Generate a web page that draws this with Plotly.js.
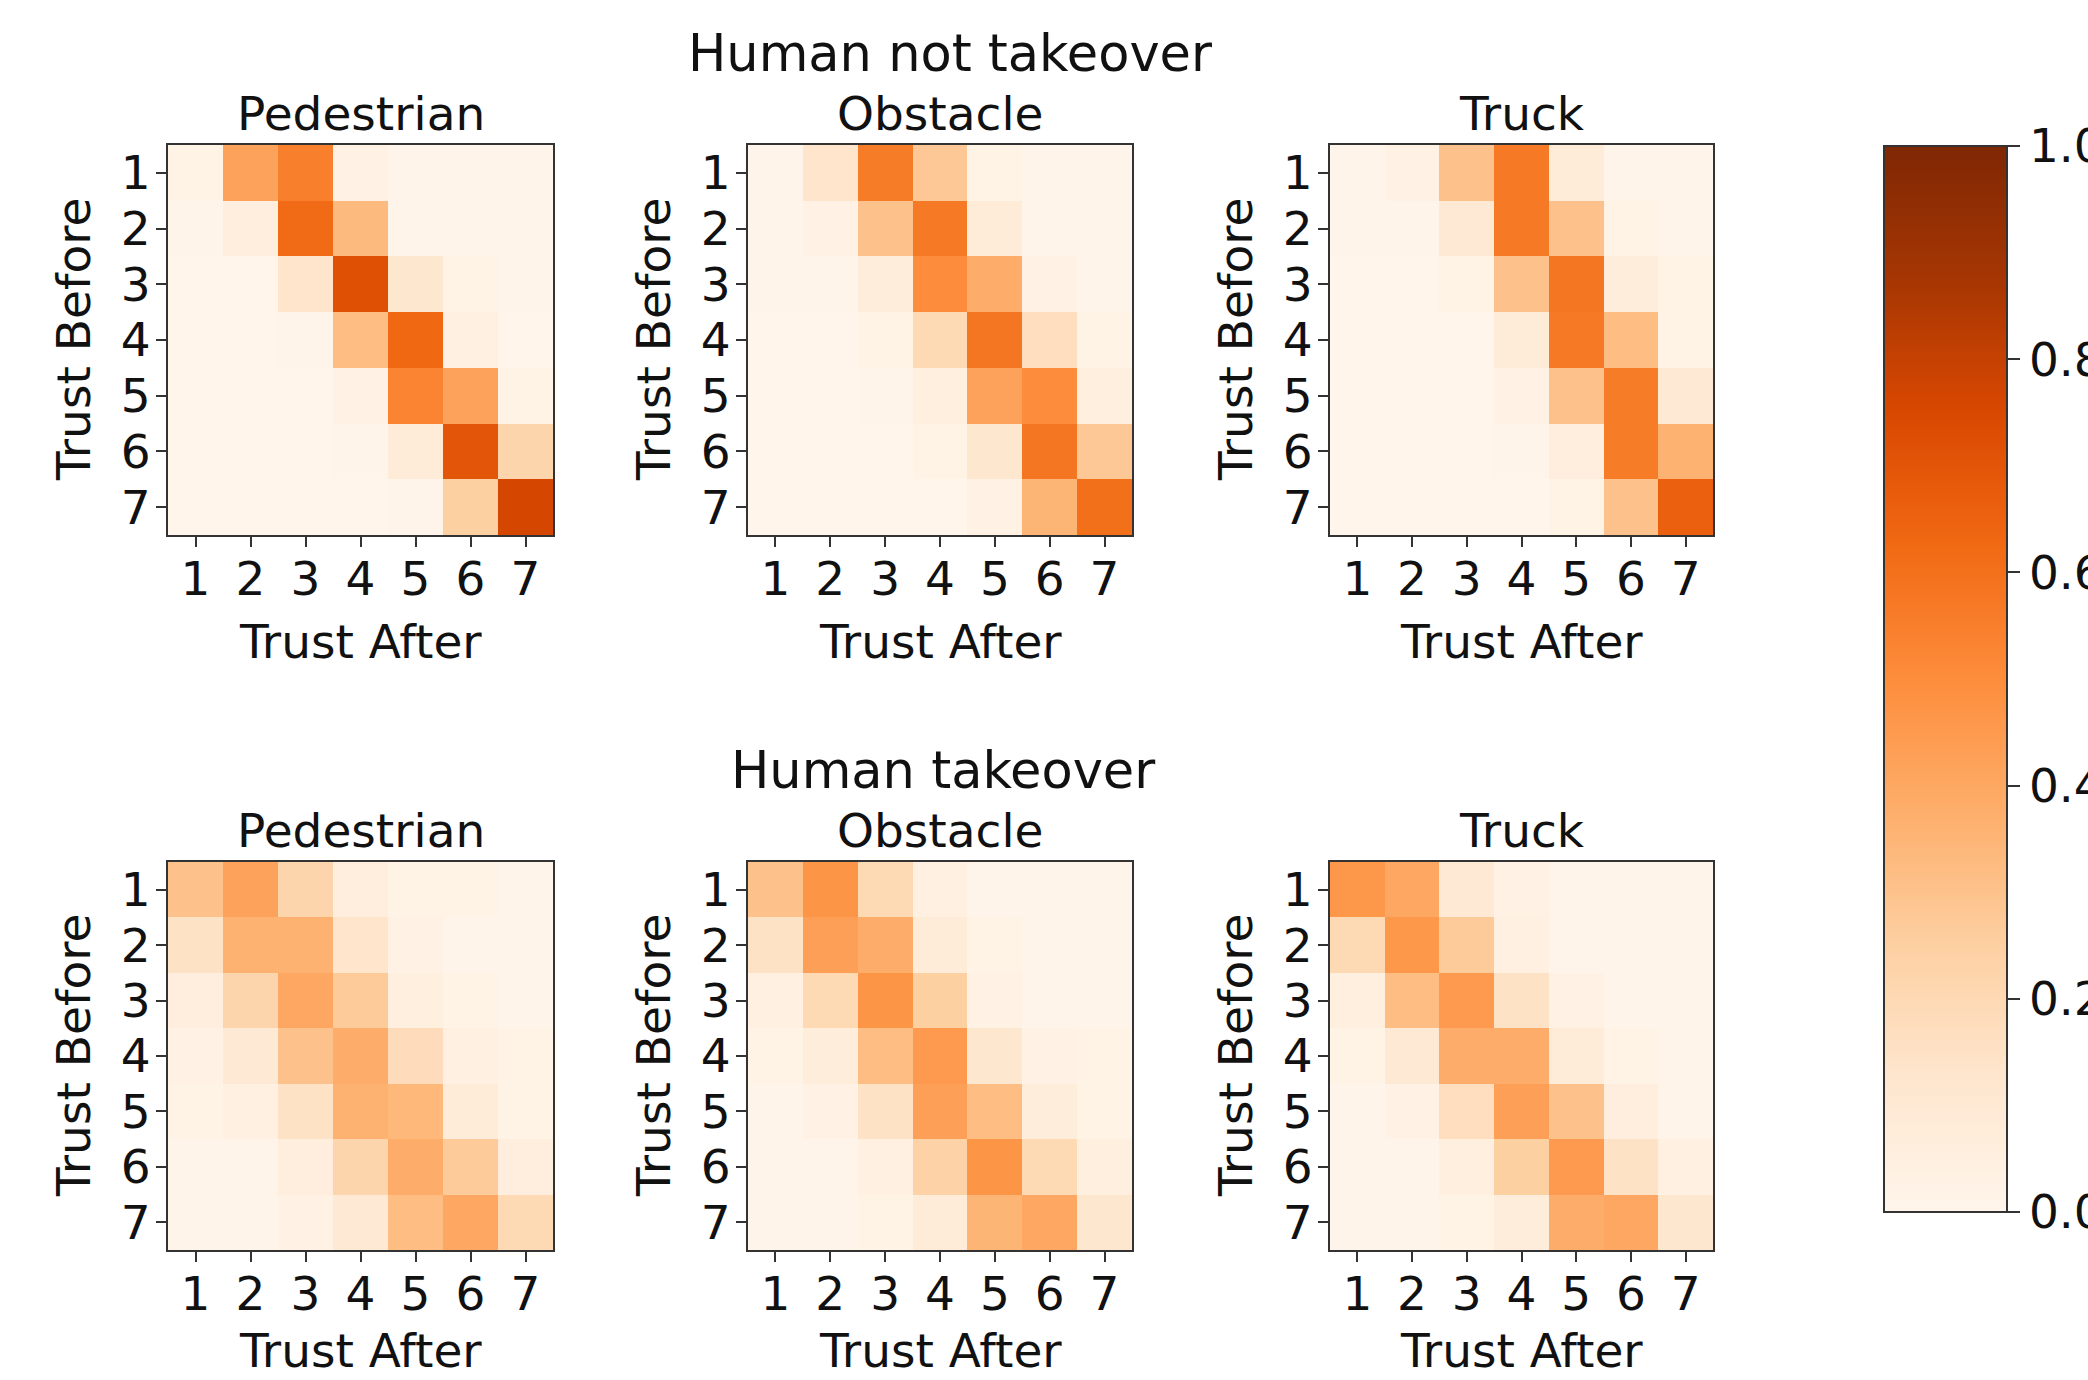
<!DOCTYPE html>
<html>
<head>
<meta charset="utf-8">
<script src="https://cdn.plot.ly/plotly-3.0.1.min.js"></script>
<style>
  html, body { margin: 0; padding: 0; background: #ffffff; overflow: hidden; }
  #chart { width: 2088px; height: 1380px; }
</style>
</head>
<body>
<div id="chart"></div>
<script>
// ---- Data (rows = Trust Before 1..7, cols = Trust After 1..7) ----
const trustLevels = [1, 2, 3, 4, 5, 6, 7];
const tickLabels = ['1', '2', '3', '4', '5', '6', '7'];
const scenarioTitles = ['Pedestrian', 'Obstacle', 'Truck'];
const groupTitles = ['Human not takeover', 'Human takeover'];
const xAxisTitle = 'Trust After';
const yAxisTitle = 'Trust Before';
const colorbarTicks = [0, 0.2, 0.4, 0.6, 0.8, 1.0];

const notTakeoverPedestrian = [
  [0.02, 0.42, 0.55, 0.03, 0.01, 0.01, 0.01],
  [0.01, 0.06, 0.62, 0.33, 0.01, 0.01, 0.01],
  [0.00, 0.00, 0.13, 0.72, 0.12, 0.02, 0.01],
  [0.00, 0.00, 0.01, 0.32, 0.63, 0.04, 0.00],
  [0.00, 0.00, 0.00, 0.03, 0.53, 0.42, 0.02],
  [0.00, 0.00, 0.00, 0.01, 0.08, 0.70, 0.22],
  [0.00, 0.00, 0.00, 0.00, 0.01, 0.25, 0.76]
];
const notTakeoverObstacle = [
  [0.01, 0.13, 0.56, 0.28, 0.02, 0.01, 0.01],
  [0.01, 0.03, 0.30, 0.57, 0.08, 0.01, 0.01],
  [0.01, 0.01, 0.07, 0.50, 0.38, 0.03, 0.01],
  [0.00, 0.00, 0.02, 0.20, 0.58, 0.17, 0.02],
  [0.00, 0.00, 0.01, 0.05, 0.42, 0.50, 0.05],
  [0.00, 0.00, 0.00, 0.02, 0.12, 0.58, 0.28],
  [0.00, 0.00, 0.00, 0.00, 0.03, 0.35, 0.60]
];
const notTakeoverTruck = [
  [0.01, 0.03, 0.30, 0.57, 0.08, 0.01, 0.01],
  [0.01, 0.01, 0.10, 0.57, 0.30, 0.02, 0.01],
  [0.00, 0.00, 0.02, 0.30, 0.58, 0.07, 0.02],
  [0.00, 0.00, 0.00, 0.08, 0.57, 0.32, 0.02],
  [0.00, 0.00, 0.00, 0.03, 0.30, 0.56, 0.10],
  [0.00, 0.00, 0.00, 0.01, 0.06, 0.56, 0.36],
  [0.00, 0.00, 0.00, 0.00, 0.02, 0.30, 0.66]
];
const takeoverPedestrian = [
  [0.30, 0.42, 0.22, 0.06, 0.02, 0.02, 0.01],
  [0.15, 0.36, 0.36, 0.13, 0.03, 0.01, 0.01],
  [0.06, 0.22, 0.40, 0.27, 0.05, 0.02, 0.01],
  [0.03, 0.10, 0.30, 0.38, 0.18, 0.04, 0.02],
  [0.02, 0.04, 0.15, 0.36, 0.34, 0.08, 0.02],
  [0.01, 0.01, 0.06, 0.22, 0.38, 0.27, 0.06],
  [0.01, 0.01, 0.03, 0.10, 0.32, 0.40, 0.20]
];
const takeoverObstacle = [
  [0.30, 0.47, 0.20, 0.04, 0.01, 0.01, 0.01],
  [0.15, 0.43, 0.38, 0.08, 0.02, 0.01, 0.01],
  [0.04, 0.20, 0.47, 0.25, 0.03, 0.01, 0.01],
  [0.02, 0.07, 0.32, 0.45, 0.12, 0.03, 0.02],
  [0.01, 0.03, 0.15, 0.43, 0.32, 0.07, 0.02],
  [0.01, 0.01, 0.04, 0.24, 0.47, 0.20, 0.05],
  [0.01, 0.01, 0.02, 0.08, 0.35, 0.40, 0.12]
];
const takeoverTruck = [
  [0.46, 0.40, 0.10, 0.03, 0.01, 0.01, 0.01],
  [0.20, 0.46, 0.27, 0.04, 0.01, 0.01, 0.01],
  [0.05, 0.32, 0.45, 0.15, 0.03, 0.01, 0.01],
  [0.02, 0.10, 0.38, 0.38, 0.08, 0.02, 0.01],
  [0.01, 0.03, 0.17, 0.43, 0.30, 0.06, 0.01],
  [0.01, 0.01, 0.05, 0.25, 0.45, 0.15, 0.04],
  [0.01, 0.01, 0.02, 0.07, 0.38, 0.40, 0.12]
];

// matplotlib "Oranges" colormap
const oranges = [
  [0.000, '#fff5eb'], [0.125, '#fee6ce'], [0.250, '#fdd0a2'],
  [0.375, '#fdae6b'], [0.500, '#fd8d3c'], [0.625, '#f16913'],
  [0.750, '#d94801'], [0.875, '#a63603'], [1.000, '#7f2704']
];

// ---- Layout geometry (pixels) ----
const W = 2088, H = 1380;
const FONT = 'DejaVu Sans, Liberation Sans, sans-serif';
const FS = 47;
const FS_GROUP = 51;
const TXT = '#111111';
const colsPx = [[168, 553], [748, 1132], [1330, 1713]];
const rowsPx = [[145, 535], [862, 1250]];
const px = x => x / W;
const py = y => 1 - y / H;

const matrices = [
  [notTakeoverPedestrian, notTakeoverObstacle, notTakeoverTruck],
  [takeoverPedestrian, takeoverObstacle, takeoverTruck]
];

const traces = [];
const layout = {
  width: W, height: H,
  margin: {l: 0, r: 0, t: 0, b: 0, pad: 0, autoexpand: false},
  paper_bgcolor: '#ffffff', plot_bgcolor: '#ffffff',
  font: {family: FONT, size: FS, color: TXT},
  showlegend: false,
  annotations: [],
  coloraxis: {
    cmin: 0, cmax: 1,
    colorscale: oranges,
    colorbar: {
      x: px(1884), xanchor: 'left', xpad: 0,
      y: py((146 + 1212) / 2), yanchor: 'middle', ypad: 0,
      len: (1212 - 146) / H, lenmode: 'fraction',
      thickness: 123, thicknessmode: 'pixels',
      outlinewidth: 2, outlinecolor: '#333333',
      ticks: 'outside', ticklen: 12, tickwidth: 2, tickcolor: '#333333',
      tickvals: colorbarTicks, tickformat: '.1f',
      tickfont: {family: FONT, size: FS, color: TXT}
    }
  }
};

let idx = 0;
for (let r = 0; r < 2; r++) {
  for (let c = 0; c < 3; c++) {
    idx++;
    const xa = idx === 1 ? 'xaxis' : 'xaxis' + idx;
    const ya = idx === 1 ? 'yaxis' : 'yaxis' + idx;
    const xr = idx === 1 ? 'x' : 'x' + idx;
    const yr = idx === 1 ? 'y' : 'y' + idx;
    traces.push({
      type: 'heatmap',
      x: trustLevels, y: trustLevels, z: matrices[r][c],
      xaxis: xr, yaxis: yr,
      coloraxis: 'coloraxis',
      xgap: 0, ygap: 0,
      hoverongaps: false
    });
    const common = {
      showgrid: false, zeroline: false,
      showline: true, mirror: true, linecolor: '#333333', linewidth: 2,
      ticks: 'outside', ticklen: 10, tickwidth: 2, tickcolor: '#333333',
      tickmode: 'array', tickvals: trustLevels, ticktext: tickLabels,
      tickfont: {family: FONT, size: FS, color: TXT},
      automargin: false,
      fixedrange: true
    };
    layout[xa] = Object.assign({}, common, {
      domain: [px(colsPx[c][0]), px(colsPx[c][1])],
      range: [0.5, 7.5], anchor: yr,
      ticklabelstandoff: -8
    });
    layout[ya] = Object.assign({}, common, {
      domain: [py(rowsPx[r][1]), py(rowsPx[r][0])],
      range: [7.5, 0.5], anchor: xr,
      ticklabelstandoff: -4
    });

    const cx = (colsPx[c][0] + colsPx[c][1]) / 2;
    const cy = (rowsPx[r][0] + rowsPx[r][1]) / 2;
    const top = rowsPx[r][0];
    const bottom = rowsPx[r][1];
    // subplot title
    layout.annotations.push({
      xref: 'paper', yref: 'paper', x: px(cx), y: py(top - 32),
      xanchor: 'center', yanchor: 'middle', showarrow: false,
      text: scenarioTitles[c], font: {family: FONT, size: FS, color: TXT}
    });
    // x axis title
    layout.annotations.push({
      xref: 'paper', yref: 'paper', x: px(cx), y: py(Math.min(bottom + 106, H - 30)),
      xanchor: 'center', yanchor: 'middle', showarrow: false,
      text: xAxisTitle, font: {family: FONT, size: FS, color: TXT}
    });
    // y axis title
    layout.annotations.push({
      xref: 'paper', yref: 'paper', x: px(colsPx[c][0] - 95), y: py(cy),
      xanchor: 'center', yanchor: 'middle', showarrow: false, textangle: -90,
      text: yAxisTitle, font: {family: FONT, size: FS, color: TXT}
    });
  }
}
// group titles
layout.annotations.push({
  xref: 'paper', yref: 'paper', x: px(950), y: py(53),
  xanchor: 'center', yanchor: 'middle', showarrow: false,
  text: groupTitles[0], font: {family: FONT, size: FS_GROUP, color: TXT}
});
layout.annotations.push({
  xref: 'paper', yref: 'paper', x: px(943), y: py(770),
  xanchor: 'center', yanchor: 'middle', showarrow: false,
  text: groupTitles[1], font: {family: FONT, size: FS_GROUP, color: TXT}
});

Plotly.newPlot('chart', traces, layout, {displayModeBar: false, staticPlot: true});
</script>
</body>
</html>
